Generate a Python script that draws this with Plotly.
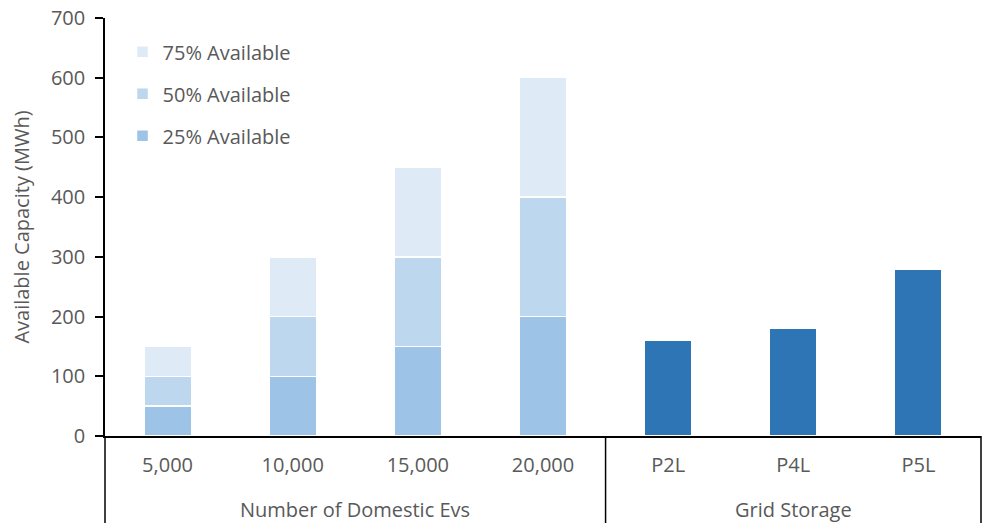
import plotly.graph_objects as go

categories = ["5,000", "10,000", "15,000", "20,000", "P2L", "P4L", "P5L"]
group_names = ["Number of Domestic Evs", "Grid Storage"]
group_sizes = [4, 3]

ev_cats = categories[:4]
avail_25 = [50, 100, 150, 200]
avail_50 = [50, 100, 150, 200]
avail_75 = [50, 100, 150, 200]

grid_cats = categories[4:]
grid_values = [160, 180, 280]

series_names = ["25% Available", "50% Available", "75% Available"]
series_colors = ["#9DC3E6", "#BDD7EE", "#DEEBF7"]
grid_color = "#2E75B6"

font_family = "'Open Sans', Lato, sans-serif"
text_color = "#595959"
FS = 20

fig = go.Figure()
for rank, (name, vals, col) in enumerate(zip(series_names, [avail_25, avail_50, avail_75], series_colors)):
    fig.add_trace(go.Bar(
        x=ev_cats, y=vals, name=name, legendgroup=name, legendrank=10 - rank,
        marker=dict(color=col, line=dict(color="white", width=1.5)),
    ))
fig.add_trace(go.Bar(
    x=grid_cats, y=grid_values, name="Grid Storage",
    showlegend=False,
    marker=dict(color=grid_color, line=dict(color="white", width=1.5)),
))

# group labels and divider lines below the category axis
n = len(categories)
plot_h = 523 - 18 - 87
below = 87 / plot_h
shapes = []
annotations = []
start = 0
bounds = [0]
for gname, gsize in zip(group_names, group_sizes):
    center = start + (gsize - 1) / 2
    annotations.append(dict(x=center, xref="x", y=-(509 - 436) / plot_h, yref="paper",
                            text=gname, showarrow=False, yanchor="middle",
                            font=dict(size=FS, color=text_color, family=font_family)))
    start += gsize
    bounds.append(start)
for b in bounds:
    shapes.append(dict(type="line", xref="paper", yref="paper",
                       x0=b / n, x1=b / n, y0=0, y1=-below,
                       line=dict(color="black", width=1.5)))

fig.update_layout(
    barmode="stack",
    bargap=0.62,
    width=985, height=523,
    margin=dict(l=105, r=4, t=18, b=87),
    plot_bgcolor="white", paper_bgcolor="white",
    font=dict(family=font_family, size=FS, color=text_color),
    legend=dict(x=0.02, y=0.966, xanchor="left", yanchor="top",
                traceorder="grouped", tracegroupgap=13,
                font=dict(size=FS, color=text_color), bgcolor="rgba(0,0,0,0)"),
    xaxis=dict(type="category", categoryorder="array", categoryarray=categories,
               range=[-0.5, n - 0.5],
               showline=True, linecolor="black", linewidth=1.5,
               ticks="outside", ticklen=10, tickcolor="rgba(0,0,0,0)",
               tickfont=dict(size=FS, color=text_color), showgrid=False),
    yaxis=dict(range=[0, 700], dtick=100, showline=True, linecolor="black", linewidth=1.5,
               ticks="outside", ticklen=8, tickcolor="black", tickwidth=1.5,
               ticklabelstandoff=6,
               showgrid=False, zeroline=False,
               title=dict(text="Available Capacity (MWh)", font=dict(size=FS, color=text_color), standoff=16),
               tickfont=dict(size=FS, color=text_color)),
    shapes=shapes,
    annotations=annotations,
)

fig.write_html("out.html")
